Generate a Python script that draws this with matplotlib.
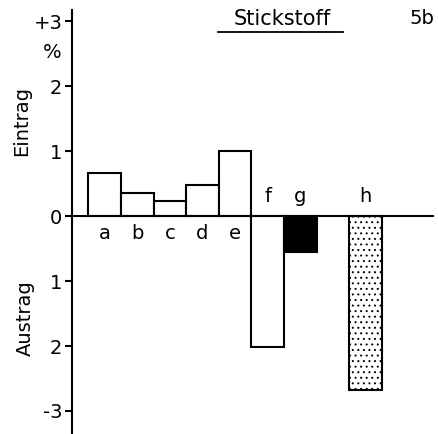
import matplotlib.pyplot as plt

# values in % (positive = Eintrag, negative = Austrag)
labels = ["a", "b", "c", "d", "e", "f", "g", "h"]
positions = [1, 2, 3, 4, 5, 6, 7, 9]
values = [0.66, 0.35, 0.23, 0.48, 1.0, -2.02, -0.55, -2.68]
fills = ["white", "white", "white", "white", "white", "white", "black", "white"]
hatches = [None, None, None, None, None, None, None, "..."]

yticks = [3, 2, 1, 0, -1, -2, -3]
yticklabels = ["+3", "2", "1", "0", "1", "2", "-3"]

plt.rcParams["font.family"] = ["DejaVu Sans"]
plt.rcParams["hatch.linewidth"] = 0.7

fig = plt.figure(figsize=(4.39, 4.34), dpi=100)
ax = fig.add_axes([72 / 439, 0, 362 / 439, 424 / 434])

for x, v, fc, h in zip(positions, values, fills, hatches):
    ax.bar(x, v, width=1.0, facecolor=fc, edgecolor="black", linewidth=1.5,
           hatch=h, zorder=2)

ax.axhline(0, color="black", linewidth=1.5, zorder=3)

for x, v, lab in zip(positions, values, labels):
    if v > 0:
        ax.text(x, -0.13, lab, ha="center", va="top", fontsize=14)
    else:
        ax.text(x, 0.15, lab, ha="center", va="bottom", fontsize=14)

ax.set_xlim(0, 11.1)
ax.set_ylim(-3.354, 3.17)
ax.set_yticks(yticks)
ax.set_yticklabels(yticklabels, fontsize=14)
ax.set_xticks([])
for s in ["top", "right", "bottom"]:
    ax.spines[s].set_visible(False)
ax.spines["left"].set_linewidth(1.5)
ax.tick_params(axis="y", direction="out", length=5, width=1.5, pad=2)

fig.text(22 / 439, 1 - 121 / 434, "Eintrag", rotation=90, ha="center", va="center", fontsize=14)
fig.text(25 / 439, 1 - 318 / 434, "Austrag", rotation=90, ha="center", va="center", fontsize=14)
fig.text(52 / 439, 1 - 53 / 434, "%", ha="center", va="center", fontsize=14)

fig.text(282 / 439, 1 - 19 / 434, "Stickstoff", ha="center", va="center", fontsize=15)
fig.add_artist(plt.Line2D([218 / 439, 343 / 439], [1 - 32 / 434, 1 - 32 / 434],
                          color="black", linewidth=1.3))
fig.text(422 / 439, 1 - 19 / 434, "5b", ha="center", va="center", fontsize=14)

fig.savefig("out.png", dpi=100)
